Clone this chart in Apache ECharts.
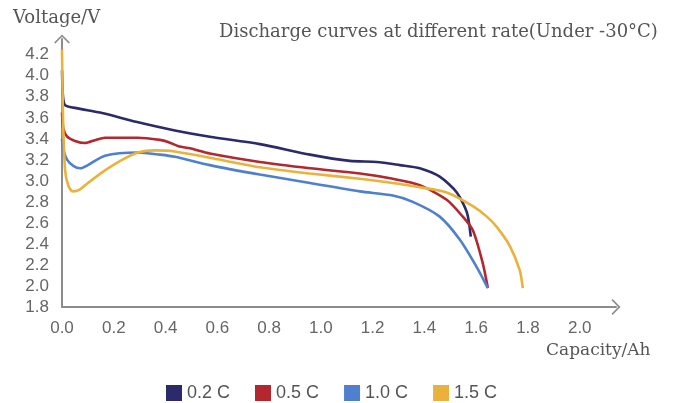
<!DOCTYPE html>
<html><head><meta charset="utf-8">
<script src="https://cdn.jsdelivr.net/npm/echarts@6/dist/echarts.min.js"></script>
<style>html,body{margin:0;padding:0;background:#fff}#c{width:678px;height:403px}</style>
</head><body><div id="c"></div>
<script>
var seriesNames = ['0.2 C', '0.5 C', '1.0 C', '1.5 C'];
var xTicks = ['0.0','0.2','0.4','0.6','0.8','1.0','1.2','1.4','1.6','1.8','2.0'];
var yTicks = ['1.8','2.0','2.2','2.4','2.6','2.8','3.0','3.2','3.4','3.6','3.8','4.0','4.2'];

var cap02 = [0, 0.004, 0.012, 0.06, 0.147, 0.29, 0.436, 0.571, 0.764, 0.958, 1.112, 1.216, 1.305, 1.382, 1.459, 1.525, 1.564, 1.579];
var v02   = [4.05, 3.80, 3.72, 3.69, 3.65, 3.56, 3.48, 3.42, 3.35, 3.25, 3.19, 3.18, 3.15, 3.12, 3.04, 2.89, 2.70, 2.47];

var cap05 = [0, 0.005, 0.02, 0.05, 0.089, 0.13, 0.166, 0.293, 0.378, 0.41, 0.45, 0.494, 0.571, 0.764, 0.958, 1.151, 1.278, 1.382, 1.486, 1.548, 1.587, 1.625, 1.645];
var v05   = [3.65, 3.50, 3.42, 3.38, 3.36, 3.39, 3.41, 3.41, 3.39, 3.37, 3.33, 3.31, 3.26, 3.18, 3.12, 3.07, 3.02, 2.96, 2.82, 2.66, 2.53, 2.22, 1.98];

var cap10 = [0, 0.005, 0.02, 0.045, 0.07, 0.1, 0.166, 0.293, 0.378, 0.436, 0.571, 0.764, 0.958, 1.151, 1.278, 1.355, 1.459, 1.537, 1.602, 1.645];
var v10   = [3.40, 3.30, 3.20, 3.14, 3.12, 3.15, 3.24, 3.27, 3.25, 3.23, 3.15, 3.06, 2.98, 2.90, 2.86, 2.80, 2.66, 2.44, 2.18, 1.98];

var cap15 = [0, 0.004, 0.012, 0.025, 0.042, 0.07, 0.10, 0.166, 0.232, 0.293, 0.359, 0.436, 0.571, 0.764, 0.958, 1.151, 1.278, 1.382, 1.486, 1.587, 1.641, 1.68, 1.73, 1.768, 1.78];
var v15   = [4.25, 3.60, 3.10, 2.95, 2.90, 2.92, 2.98, 3.10, 3.20, 3.27, 3.29, 3.28, 3.22, 3.13, 3.07, 3.02, 2.98, 2.94, 2.89, 2.76, 2.66, 2.56, 2.38, 2.15, 1.98];

var colors = ['#2b2a6b', '#b3282e', '#4f7fcf', '#eab23a'];
function zip(a, b) { return a.map(function (x, i) { return [x, b[i]]; }); }
var caps = [cap02, cap05, cap10, cap15];
var vols = [v02, v05, v10, v15];

var chevron = 'path://M0,10 L10,0 L20,10 L18.4,11.4 L10,3 L1.6,11.4 Z';
var axisCol = '#8c8c8c';
var chart = echarts.init(document.getElementById('c'), null, {renderer: 'canvas'});
chart.setOption({
  animation: false,
  color: colors,
  title: [
    {text: 'Discharge curves at different rate(Under -30°C)', left: 214, top: 18,
     textStyle: {fontFamily: 'DejaVu Serif', fontSize: 18, fontWeight: 'normal', color: '#555'}},
    {text: 'Voltage/V', left: 8, top: 4,
     textStyle: {fontFamily: 'DejaVu Serif', fontSize: 18, fontWeight: 'normal', color: '#555'}},
    {text: 'Capacity/Ah', left: 541, top: 337,
     textStyle: {fontFamily: 'DejaVu Serif', fontSize: 17, fontWeight: 'normal', color: '#555'}}
  ],
  legend: {
    left: 161, top: 379, icon: 'rect', itemWidth: 16, itemHeight: 16, itemGap: 25,
    textStyle: {fontFamily: 'Liberation Sans', fontSize: 18, color: '#555'},
    data: seriesNames
  },
  grid: {left: 62, right: 62, top: 39, bottom: 96, containLabel: false},
  xAxis: {
    type: 'value', min: 0, max: 2.14, interval: 0.2,
    axisLine: {lineStyle: {color: axisCol, width: 2}, symbol: ['none', chevron], symbolSize: [16, 9]},
    axisTick: {show: false}, splitLine: {show: false},
    axisLabel: {showMaxLabel: false, margin: 13, color: '#666', fontFamily: 'Liberation Sans', fontSize: 17,
      formatter: function (v) { var i = Math.round(v / 0.2); return xTicks[i] || ''; }}
  },
  yAxis: {
    type: 'value', min: 1.8, max: 4.35, interval: 0.2,
    axisLine: {show: true, lineStyle: {color: axisCol, width: 2}, symbol: ['none', chevron], symbolSize: [16, 9]},
    axisTick: {show: false}, splitLine: {show: false},
    axisLabel: {showMaxLabel: false, margin: 13, color: '#666', fontFamily: 'Liberation Sans', fontSize: 17,
      formatter: function (v) { var i = Math.round((v - 1.8) / 0.2); return yTicks[i] || ''; }}
  },
  series: seriesNames.map(function (n, k) {
    return {name: n, type: 'line', smooth: 0.25, symbol: 'none', showSymbol: false,
      lineStyle: {width: 2.6, color: colors[k]}, itemStyle: {color: colors[k]},
      data: zip(caps[k], vols[k])};
  })
});
</script></body></html>
